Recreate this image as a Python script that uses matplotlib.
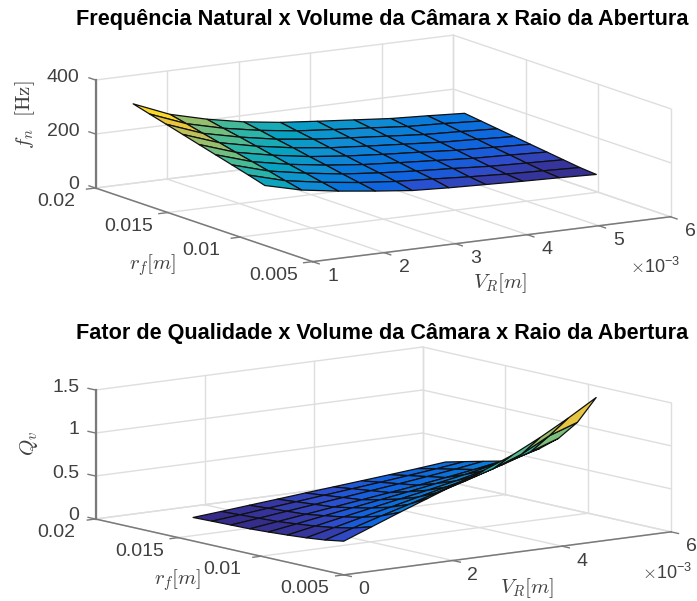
import numpy as np
import matplotlib
matplotlib.use('Agg')
import matplotlib.pyplot as plt
from matplotlib.colors import LinearSegmentedColormap, Normalize
from mpl_toolkits.mplot3d import proj3d

plt.rcParams['font.family'] = ['Liberation Sans', 'DejaVu Sans']
plt.rcParams['mathtext.fontset'] = 'cm'

W, H = 697, 601

# surface data
vol = [1.0e-3, 1.514e-3, 2.029e-3, 2.543e-3, 3.057e-3, 3.571e-3, 4.086e-3, 4.6e-3, 5.114e-3, 5.63e-3]
raio = [0.0083, 0.00943, 0.01057, 0.01171, 0.01285, 0.01398, 0.01512, 0.01626, 0.0174]

freq = [
    [222, 188, 167, 150, 135, 128, 123, 118, 114, 109],
    [240, 202, 179, 161, 148, 140, 131, 124, 119, 114],
    [257, 217, 192, 172, 159, 149, 141, 132, 127, 122],
    [274, 231, 204, 184, 169, 159, 150, 141, 136, 130],
    [291, 245, 217, 195, 180, 169, 160, 150, 144, 138],
    [308, 260, 230, 207, 190, 179, 169, 159, 153, 146],
    [325, 274, 243, 218, 201, 189, 178, 167, 161, 154],
    [342, 289, 255, 230, 211, 199, 188, 176, 170, 162],
    [359, 303, 268, 241, 222, 209, 197, 185, 178, 170],
]

qual = [
    [.165, .290, .415, .535, .655, .775, .907, 1.070, 1.252, 1.450],
    [.130, .226, .323, .416, .509, .602, .703, .826, 1.000, 1.113],
    [.106, .182, .259, .333, .408, .482, .562, .657, .763, .878],
    [.089, .150, .213, .274, .335, .395, .460, .536, .619, .710],
    [.075, .126, .178, .228, .279, .329, .382, .442, .508, .580],
    [.063, .104, .146, .187, .229, .270, .312, .359, .409, .465],
    [.058, .094, .132, .169, .206, .243, .280, .321, .364, .413],
    [.053, .084, .118, .150, .183, .216, .248, .283, .319, .360],
    [.047, .074, .103, .131, .160, .188, .216, .244, .273, .306],
]

parula = LinearSegmentedColormap.from_list('parula', [
    (0.00, (0.2081, 0.1663, 0.5292)),
    (0.05, (0.2100, 0.2200, 0.6400)),
    (0.09, (0.1800, 0.3000, 0.8000)),
    (0.14, (0.0700, 0.3800, 0.8800)),
    (0.25, (0.0300, 0.4700, 0.8600)),
    (0.33, (0.0641, 0.5570, 0.8240)),
    (0.43, (0.0239, 0.6287, 0.7641)),
    (0.56, (0.1986, 0.7214, 0.6310)),
    (0.66, (0.4420, 0.7481, 0.5033)),
    (0.78, (0.7123, 0.7478, 0.3633)),
    (0.90, (0.9955, 0.7861, 0.1967)),
    (1.00, (0.9763, 0.9831, 0.0538)),
])

GRID = '#dedede'
AXIS = '#7a7a7a'
TXT = '#404040'


def to_px(ax, x, y, z):
    xs, ys, _ = proj3d.proj_transform(x, y, z, ax.get_proj())
    p = ax.transData.transform((xs, ys))
    return p[0], H - p[1]


def put(x, y, s, **kw):
    return fig.text(x / W, 1 - y / H, s, **kw)


def panel(xt, xtl, yt, ytl, zt, ztl, aspect, elev, azim, vertex, z_height,
          X, Y, Z, xlab, ylab, zlab, exp_pos, title, title_y):
    ax = fig.add_axes([0, 0, 1, 1], projection='3d', computed_zorder=False)
    ax.set_proj_type('ortho')
    ax.view_init(elev=elev, azim=azim)
    ax.set_xlim(xt[0], xt[-1])
    ax.set_ylim(yt[0], yt[-1])
    ax.set_zlim(zt[0], zt[-1])
    ax.set_axis_off()
    ax.patch.set_visible(False)

    # scale and shift so the box lands on the same pixels as the reference
    ax.set_box_aspect(aspect, zoom=1)
    ax.apply_aspect()
    h0 = to_px(ax, xt[0], yt[-1], zt[0])[1] - to_px(ax, xt[0], yt[-1], zt[-1])[1]
    ax.set_box_aspect(aspect, zoom=z_height / h0)
    px = to_px(ax, xt[0], yt[-1], zt[0])
    ax.set_position([(vertex[0] - px[0]) / W, (px[1] - vertex[1]) / H, 1, 1])
    ax.apply_aspect()

    x0, x1, y0, y1, z0, z1 = xt[0], xt[-1], yt[0], yt[-1], zt[0], zt[-1]

    # grid on floor and two back walls
    for v in xt:
        ax.plot([v, v], [y0, y1], [z0, z0], color=GRID, lw=1, zorder=1)
        ax.plot([v, v], [y1, y1], [z0, z1], color=GRID, lw=1, zorder=1)
    for v in yt:
        ax.plot([x0, x1], [v, v], [z0, z0], color=GRID, lw=1, zorder=1)
        ax.plot([x1, x1], [v, v], [z0, z1], color=GRID, lw=1, zorder=1)
    for v in zt:
        ax.plot([x0, x1], [y1, y1], [v, v], color=GRID, lw=1, zorder=1)
        ax.plot([x1, x1], [y0, y1], [v, v], color=GRID, lw=1, zorder=1)

    cols = parula(Normalize(Z.min(), Z.max())(Z))
    surf = ax.plot_surface(X, Y, Z, rstride=1, cstride=1, facecolors=cols,
                           shade=False, zorder=2)
    surf.set_edgecolor('#101010')
    surf.set_linewidth(0.9)

    # axis lines and outward ticks
    ax.plot([x0, x1], [y0, y0], [z0, z0], color=AXIS, lw=1.1, zorder=3, clip_on=False)
    ax.plot([x0, x0], [y0, y1], [z0, z0], color=AXIS, lw=1.1, zorder=3, clip_on=False)
    ax.plot([x0, x0], [y1, y1], [z0, z1], color=AXIS, lw=1.6, zorder=3, clip_on=False)
    dx, dy = 0.025 * (x1 - x0), 0.03 * (y1 - y0)
    for v in xt:
        ax.plot([v, v], [y0, y0 - dy], [z0, z0], color=AXIS, lw=1, zorder=3, clip_on=False)
    for v in yt:
        ax.plot([x0, x0 - dx], [v, v], [z0, z0], color=AXIS, lw=1, zorder=3, clip_on=False)
    for v in zt:
        ax.plot([x0, x0], [y1, y1 + dy], [v, v], color=AXIS, lw=1, zorder=3, clip_on=False)

    fs = 14
    for v, s in zip(xt, xtl):
        p = to_px(ax, v, y0, z0)
        put(p[0] + 20, p[1] + 15, s, fontsize=fs, color=TXT, ha='center', va='center')
    for v, s in zip(yt, ytl):
        p = to_px(ax, x0, v, z0)
        put(p[0] - 39, p[1] + 13.5, s, fontsize=fs, color=TXT, ha='center', va='center')
    for v, s in zip(zt, ztl):
        p = to_px(ax, x0, y1, v)
        put(p[0] - 16, p[1] - 3, s, fontsize=fs, color=TXT, ha='right', va='center')

    put(*xlab[1], xlab[0], fontsize=15, color=TXT, ha='center', va='center')
    put(*ylab[1], ylab[0], fontsize=15, color=TXT, ha='center', va='center')
    put(*zlab[1], zlab[0], fontsize=15, color=TXT, ha='center', va='center', rotation=90)
    put(*exp_pos, r'$\times\mathregular{10^{-3}}$', fontsize=13, color=TXT, ha='center', va='center')
    put(382, title_y, title, fontsize=15.6, fontweight='bold', color='black', ha='center', va='center')
    return ax


fig = plt.figure(figsize=(W / 100, H / 100), dpi=100)

X, Y = np.meshgrid(np.array(vol), np.array(raio))

panel([1e-3, 2e-3, 3e-3, 4e-3, 5e-3, 6e-3], ['1', '2', '3', '4', '5', '6'],
      [0.005, 0.01, 0.015, 0.02], ['0.005', '0.01', '0.015', '0.02'],
      [0, 200, 400], ['0', '200', '400'],
      (419, 418, 110.4), 11.9, 238.7, (95.5, 188), 108,
      X, Y, np.array(freq, dtype=float),
      (r'$V_R[m]$', (500, 283)), (r'$r_f[m]$', (153, 265)),
      (r'$f_n\ \ [\mathrm{Hz}]$', (25, 115)), (655, 267),
      'Frequência Natural x Volume da Câmara x Raio da Abertura', 20)

panel([0, 2e-3, 4e-3, 6e-3], ['0', '2', '4', '6'],
      [0.005, 0.01, 0.015, 0.02], ['0.005', '0.01', '0.015', '0.02'],
      [0, 0.5, 1, 1.5], ['0', '0.5', '1', '1.5'],
      (412, 409, 131), 9.9, 232.6, (95.5, 519), 129,
      X, Y, np.array(qual),
      (r'$V_R[m]$', (527, 588)), (r'$r_f[m]$', (178, 580)),
      (r'$Q_v$', (29, 443)), (667, 573),
      'Fator de Qualidade x Volume da Câmara x Raio da Abertura', 334)

fig.savefig('out.png', dpi=100)
